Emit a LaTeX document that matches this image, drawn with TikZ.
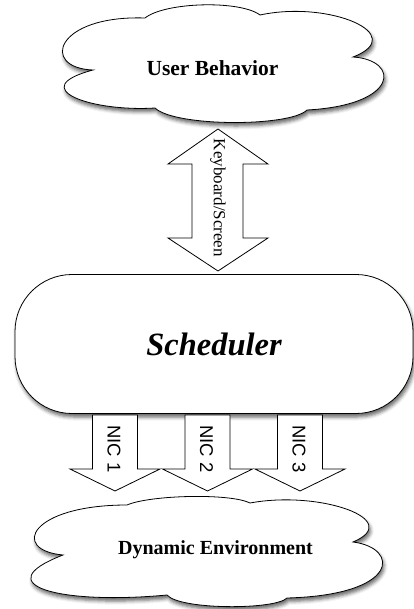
\documentclass[tikz,border=0pt]{standalone}
\usepackage{fontspec}
\setmainfont{Liberation Serif}
\setsansfont{Liberation Sans}
\usetikzlibrary{shadows.blur}
\begin{document}
\begin{tikzpicture}[x=1pt,y=-1pt,
  softshadow/.style={blur shadow={shadow xshift=1.5pt, shadow yshift=-3.5pt, shadow blur radius=3.5pt, shadow opacity=60}},
  cloudbody/.style={draw=black, line width=0.8pt, fill=white, softshadow},
  schedbox/.style={draw=black, line width=0.8pt, fill=white, rounded corners=57pt, softshadow, inner sep=0pt},
  blockarrow/.style={draw=black, line width=0.8pt, fill=white, line join=miter},
  cloudtext/.style={font=\fontsize{21.5}{22}\selectfont\bfseries},
  kbtext/.style={rotate=-90, font=\fontsize{17}{17}\selectfont, inner sep=0pt},
  niclabel/.style={rotate=-90, font=\sffamily\fontsize{18.5}{19}\selectfont, inner sep=0pt}]
\useasboundingbox (0,0) rectangle (414,609);

% top cloud
\draw[cloudbody] (93,70) .. controls (40,68) and (55,15) .. (145,18)
  .. controls (165,2) and (240,0) .. (260,15)
  .. controls (330,0) and (410,35) .. (353,57)
  .. controls (400,60) and (400,105) .. (307,110)
  .. controls (290,127) and (175,127) .. (155,108)
  .. controls (90,112) and (25,88) .. (93,70) -- cycle;
\node[cloudtext] (ub) at (212.5,68) {User Behavior};

% bottom cloud
\draw[cloudbody] (63,555) .. controls (10,550) and (30,505) .. (127,505)
  .. controls (150,495) and (230,493) .. (250,503)
  .. controls (320,490) and (405,520) .. (353,542)
  .. controls (400,548) and (400,595) .. (287,598)
  .. controls (275,610) and (180,610) .. (167,595)
  .. controls (60,605) and (-15,585) .. (63,555) -- cycle;
\node[cloudtext, font=\fontsize{20}{20}\selectfont\bfseries] (de) at (215.5,550) {Dynamic Environment};

% scheduler
\node[schedbox, minimum width=398pt, minimum height=139pt] (sch) at (214,344)
  {\fontsize{32.5}{33}\selectfont\bfseries\itshape Scheduler};

% keyboard/screen double arrow
\draw[blockarrow] (218,129) -- (268,164) -- (243,164) -- (243,238) -- (268,238)
  -- (218,271) -- (168,238) -- (192,238) -- (192,164) -- (168,164) -- cycle;
\node[kbtext] (kb) at (218,198) {Keyboard/Screen};

% NIC arrows
\foreach \c/\t/\n in {115/1/nica, 207.5/2/nicb, 300/3/nicc}{
  \draw[blockarrow] ({\c-22.5},415) -- ({\c+22.5},415) -- ({\c+22.5},469)
    -- ({\c+45},469) -- (\c,491) -- ({\c-45},469) -- ({\c-22.5},469) -- cycle;
  \node[niclabel] (\n) at ({\c-1},449) {NIC \t};
}
\end{tikzpicture}
\end{document}
